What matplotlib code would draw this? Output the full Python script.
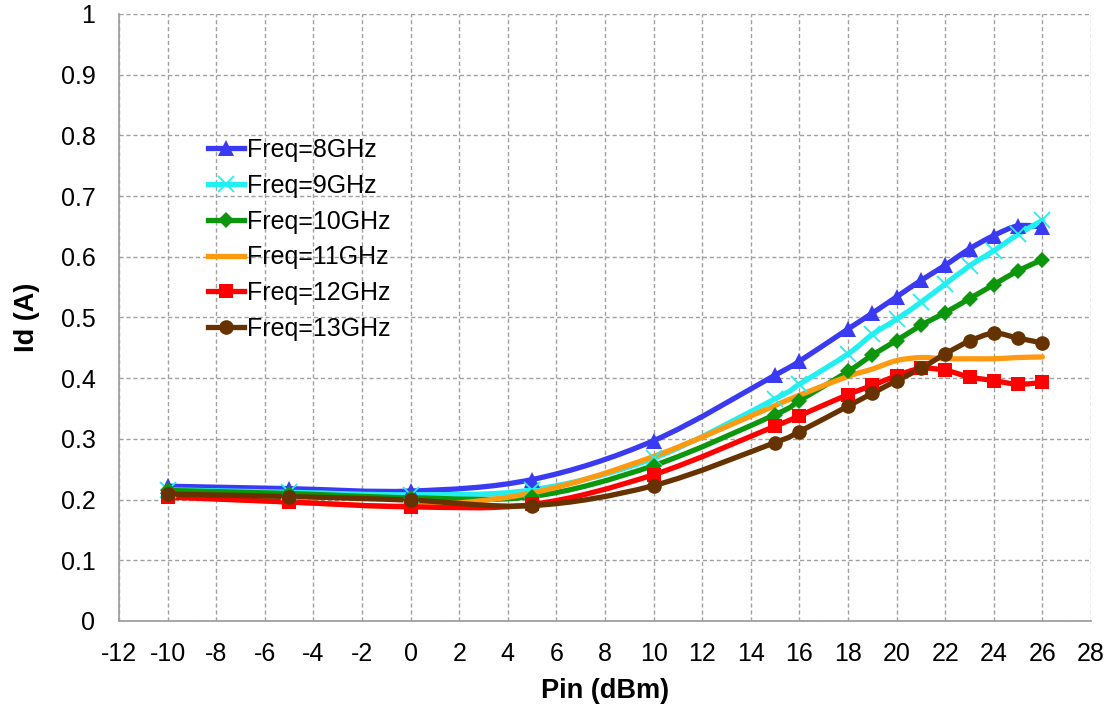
import numpy as np
import matplotlib
matplotlib.use("Agg")
import matplotlib.pyplot as plt
from matplotlib.path import Path
from matplotlib.patches import PathPatch
from matplotlib.lines import Line2D

plt.rcParams['font.family'] = ['Liberation Sans', 'DejaVu Sans']
plt.rcParams['axes.unicode_minus'] = False

# Pin (dBm)
pin = [-10, -5, 0, 5, 10, 15, 16, 18, 19, 20, 21, 22, 23, 24, 25, 26]

# Id (A) per frequency
id_8ghz = [0.222, 0.218, 0.214, 0.233, 0.297, 0.405, 0.428, 0.481, 0.507, 0.534, 0.561, 0.586, 0.613, 0.635, 0.651, 0.649]
id_9ghz = [0.216, 0.212, 0.208, 0.216, 0.268, 0.366, 0.390, 0.440, 0.472, 0.497, 0.525, 0.555, 0.585, 0.610, 0.637, 0.660]
id_10ghz = [0.215, 0.210, 0.203, 0.205, 0.256, 0.340, 0.363, 0.411, 0.438, 0.462, 0.487, 0.508, 0.531, 0.554, 0.577, 0.595]
id_11ghz = [0.206, 0.196, 0.190, 0.211, 0.271, 0.355, 0.372, 0.403, 0.415, 0.429, 0.434, 0.432, 0.432, 0.432, 0.434, 0.435]
id_12ghz = [0.204, 0.196, 0.188, 0.192, 0.241, 0.321, 0.338, 0.373, 0.388, 0.404, 0.416, 0.413, 0.402, 0.396, 0.390, 0.393]
id_13ghz = [0.209, 0.205, 0.199, 0.190, 0.223, 0.294, 0.312, 0.354, 0.375, 0.396, 0.416, 0.440, 0.461, 0.474, 0.466, 0.458]

labels = ['Freq=8GHz', 'Freq=9GHz', 'Freq=10GHz', 'Freq=11GHz', 'Freq=12GHz', 'Freq=13GHz']
series = [id_8ghz, id_9ghz, id_10ghz, id_11ghz, id_12ghz, id_13ghz]
colors = ['#3a3af2', '#22f0f0', '#0c960c', '#ff9a10', '#ff0000', '#663300']
markers = ['^', 'x', 'D', None, 's', 'o']
msizes = [11, 12, 8.5, 0, 10, 10.5]


def smooth_path(x, y):
    # Catmull-Rom style cubic Bezier through the data points (like Excel's smoothed line)
    pts = np.column_stack([x, y]).astype(float)
    n = len(pts)
    verts = [pts[0]]
    codes = [Path.MOVETO]
    for i in range(n - 1):
        p0 = pts[i - 1] if i > 0 else pts[i]
        p1 = pts[i]
        p2 = pts[i + 1]
        p3 = pts[i + 2] if i + 2 < n else pts[i + 1]
        c1 = p1 + (p2 - p0) / 6.0
        c2 = p2 - (p3 - p1) / 6.0
        verts += [c1, c2, p2]
        codes += [Path.CURVE4] * 3
    return Path(verts, codes)


fig = plt.figure(figsize=(11.11, 7.10), dpi=100)
ax = fig.add_axes([0.1071, 0.1254, 0.8749, 0.8549])

handles = []
for vals, lab, col, mk, ms in zip(series, labels, colors, markers, msizes):
    patch = PathPatch(smooth_path(pin, vals), facecolor='none', edgecolor=col,
                      lw=3.8, capstyle='round', joinstyle='round')
    ax.add_patch(patch)
    mew = 1.3 if mk == 'x' else 0
    if mk:
        ax.plot(pin, vals, linestyle='none', marker=mk, markersize=ms,
                color=col, markeredgewidth=mew)
    handles.append(Line2D([], [], color=col, lw=3.8, marker=mk, markersize=ms,
                          markeredgewidth=mew))

ax.set_xlim(-12, 28)
ax.set_ylim(0, 1)
ax.set_xticks(np.arange(-12, 29, 2))
ax.set_yticks(np.arange(0, 1.01, 0.1))
ax.set_yticklabels(['0'] + [f'{v:.1f}' for v in np.arange(0.1, 0.95, 0.1)] + ['1'])
ax.tick_params(axis='y', length=0, labelsize=18, pad=17)
ax.tick_params(axis='x', length=0, labelsize=18, pad=15)
ax.grid(True, color='#a0a0a0', linestyle=(0, (3, 2)), linewidth=1)
ax.set_axisbelow(True)
for s in ['top', 'right']:
    ax.spines[s].set_visible(False)
for s in ['left', 'bottom']:
    ax.spines[s].set_color('#a0a0a0')
    ax.spines[s].set_linewidth(1.3)

ax.set_xlabel('Pin (dBm)', fontsize=19.5, fontweight='bold', labelpad=9)
ax.set_ylabel('Id (A)', fontsize=19.5, fontweight='bold', labelpad=15)

ax.legend(handles, labels, loc='upper left', bbox_to_anchor=(0.081, 0.812),
          frameon=False, fontsize=18, handlelength=1.45, handletextpad=0.12,
          labelspacing=0.47, borderaxespad=0)

fig.savefig('out.png', dpi=100)
